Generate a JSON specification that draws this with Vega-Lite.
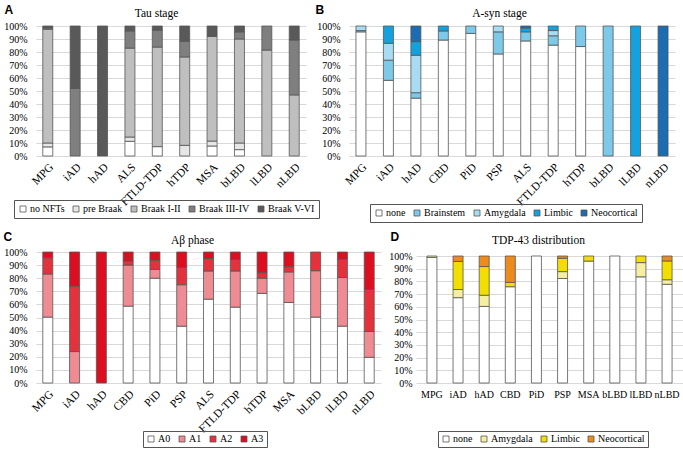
{
  "$schema": "https://vega.github.io/schema/vega-lite/v6.json",
  "background": "white",
  "padding": {"left": 3, "top": 3, "right": 0, "bottom": 0},
  "datasets": {
    "tau": [
      {"g":"MPG","s":"no NFTs","k":0,"v":7},{"g":"MPG","s":"pre Braak","k":1,"v":3},{"g":"MPG","s":"Braak I-II","k":2,"v":87.5},{"g":"MPG","s":"Braak III-IV","k":3,"v":1},{"g":"MPG","s":"Braak V-VI","k":4,"v":1.5},
      {"g":"iAD","s":"Braak III-IV","k":3,"v":52},{"g":"iAD","s":"Braak V-VI","k":4,"v":48},
      {"g":"hAD","s":"Braak V-VI","k":4,"v":100},
      {"g":"ALS","s":"no NFTs","k":0,"v":11.3},{"g":"ALS","s":"pre Braak","k":1,"v":3.3},{"g":"ALS","s":"Braak I-II","k":2,"v":68.4},{"g":"ALS","s":"Braak III-IV","k":3,"v":13.2},{"g":"ALS","s":"Braak V-VI","k":4,"v":3.8},
      {"g":"FTLD-TDP","s":"no NFTs","k":0,"v":7.2},{"g":"FTLD-TDP","s":"Braak I-II","k":2,"v":76.6},{"g":"FTLD-TDP","s":"Braak III-IV","k":3,"v":13},{"g":"FTLD-TDP","s":"Braak V-VI","k":4,"v":3.2},
      {"g":"hTDP","s":"pre Braak","k":1,"v":8.2},{"g":"hTDP","s":"Braak I-II","k":2,"v":68},{"g":"hTDP","s":"Braak III-IV","k":3,"v":12},{"g":"hTDP","s":"Braak V-VI","k":4,"v":11.8},
      {"g":"MSA","s":"no NFTs","k":0,"v":7.7},{"g":"MSA","s":"pre Braak","k":1,"v":3.8},{"g":"MSA","s":"Braak I-II","k":2,"v":80.5},{"g":"MSA","s":"Braak V-VI","k":4,"v":8},
      {"g":"bLBD","s":"no NFTs","k":0,"v":4.9},{"g":"bLBD","s":"pre Braak","k":1,"v":5.1},{"g":"bLBD","s":"Braak I-II","k":2,"v":80},{"g":"bLBD","s":"Braak III-IV","k":3,"v":5.5},{"g":"bLBD","s":"Braak V-VI","k":4,"v":4.5},
      {"g":"lLBD","s":"Braak I-II","k":2,"v":81.5},{"g":"lLBD","s":"Braak III-IV","k":3,"v":18.5},
      {"g":"nLBD","s":"Braak I-II","k":2,"v":47},{"g":"nLBD","s":"Braak III-IV","k":3,"v":42.2},{"g":"nLBD","s":"Braak V-VI","k":4,"v":10.8}
    ],
    "syn": [
      {"g":"MPG","s":"none","k":0,"v":95.5},{"g":"MPG","s":"Brainstem","k":1,"v":1},{"g":"MPG","s":"Amygdala","k":2,"v":3.5},
      {"g":"iAD","s":"none","k":0,"v":58.2},{"g":"iAD","s":"Brainstem","k":1,"v":15.5},{"g":"iAD","s":"Amygdala","k":2,"v":13},{"g":"iAD","s":"Limbic","k":3,"v":13.3},
      {"g":"hAD","s":"none","k":0,"v":44.5},{"g":"hAD","s":"Brainstem","k":1,"v":4.2},{"g":"hAD","s":"Amygdala","k":2,"v":28.8},{"g":"hAD","s":"Limbic","k":3,"v":10.5},{"g":"hAD","s":"Neocortical","k":4,"v":12},
      {"g":"CBD","s":"none","k":0,"v":89.2},{"g":"CBD","s":"Brainstem","k":1,"v":7},{"g":"CBD","s":"Limbic","k":3,"v":3.8},
      {"g":"PiD","s":"none","k":0,"v":94.3},{"g":"PiD","s":"Brainstem","k":1,"v":5.7},
      {"g":"PSP","s":"none","k":0,"v":78.5},{"g":"PSP","s":"Brainstem","k":1,"v":17},{"g":"PSP","s":"Amygdala","k":2,"v":4.5},
      {"g":"ALS","s":"none","k":0,"v":88.5},{"g":"ALS","s":"Brainstem","k":1,"v":7},{"g":"ALS","s":"Limbic","k":3,"v":3},{"g":"ALS","s":"Neocortical","k":4,"v":1.5},
      {"g":"FTLD-TDP","s":"none","k":0,"v":85.3},{"g":"FTLD-TDP","s":"Brainstem","k":1,"v":7.2},{"g":"FTLD-TDP","s":"Amygdala","k":2,"v":4},{"g":"FTLD-TDP","s":"Limbic","k":3,"v":3.5},
      {"g":"hTDP","s":"none","k":0,"v":84.2},{"g":"hTDP","s":"Brainstem","k":1,"v":15.8},
      {"g":"bLBD","s":"Brainstem","k":1,"v":100},
      {"g":"lLBD","s":"Limbic","k":3,"v":100},
      {"g":"nLBD","s":"Neocortical","k":4,"v":100}
    ],
    "abeta": [
      {"g":"MPG","s":"A0","k":0,"v":50.3},{"g":"MPG","s":"A1","k":1,"v":32.9},{"g":"MPG","s":"A2","k":2,"v":12.5},{"g":"MPG","s":"A3","k":3,"v":4.3},
      {"g":"iAD","s":"A1","k":1,"v":24},{"g":"iAD","s":"A2","k":2,"v":50},{"g":"iAD","s":"A3","k":3,"v":26},
      {"g":"hAD","s":"A3","k":3,"v":100},
      {"g":"CBD","s":"A0","k":0,"v":58.7},{"g":"CBD","s":"A1","k":1,"v":31.3},{"g":"CBD","s":"A2","k":2,"v":3},{"g":"CBD","s":"A3","k":3,"v":7},
      {"g":"PiD","s":"A0","k":0,"v":80},{"g":"PiD","s":"A1","k":1,"v":6.7},{"g":"PiD","s":"A2","k":2,"v":7.1},{"g":"PiD","s":"A3","k":3,"v":6.2},
      {"g":"PSP","s":"A0","k":0,"v":43.4},{"g":"PSP","s":"A1","k":1,"v":31.6},{"g":"PSP","s":"A2","k":2,"v":13.2},{"g":"PSP","s":"A3","k":3,"v":11.8},
      {"g":"ALS","s":"A0","k":0,"v":64},{"g":"ALS","s":"A1","k":1,"v":21.5},{"g":"ALS","s":"A2","k":2,"v":9.5},{"g":"ALS","s":"A3","k":3,"v":5},
      {"g":"FTLD-TDP","s":"A0","k":0,"v":57.9},{"g":"FTLD-TDP","s":"A1","k":1,"v":27.6},{"g":"FTLD-TDP","s":"A2","k":2,"v":8.8},{"g":"FTLD-TDP","s":"A3","k":3,"v":5.7},
      {"g":"hTDP","s":"A0","k":0,"v":68.4},{"g":"hTDP","s":"A1","k":1,"v":11.6},{"g":"hTDP","s":"A2","k":2,"v":4.2},{"g":"hTDP","s":"A3","k":3,"v":15.8},
      {"g":"MSA","s":"A0","k":0,"v":61.5},{"g":"MSA","s":"A1","k":1,"v":23.3},{"g":"MSA","s":"A2","k":2,"v":3.9},{"g":"MSA","s":"A3","k":3,"v":11.3},
      {"g":"bLBD","s":"A0","k":0,"v":50.3},{"g":"bLBD","s":"A1","k":1,"v":35.4},{"g":"bLBD","s":"A2","k":2,"v":14.3},
      {"g":"lLBD","s":"A0","k":0,"v":43.4},{"g":"lLBD","s":"A1","k":1,"v":37.1},{"g":"lLBD","s":"A2","k":2,"v":14},{"g":"lLBD","s":"A3","k":3,"v":5.5},
      {"g":"nLBD","s":"A0","k":0,"v":19.6},{"g":"nLBD","s":"A1","k":1,"v":19.7},{"g":"nLBD","s":"A2","k":2,"v":32.1},{"g":"nLBD","s":"A3","k":3,"v":28.6}
    ],
    "tdp": [
      {"g":"MPG","s":"none","k":0,"v":98.9},{"g":"MPG","s":"Amygdala","k":1,"v":1.1},
      {"g":"iAD","s":"none","k":0,"v":67.2},{"g":"iAD","s":"Amygdala","k":1,"v":6.4},{"g":"iAD","s":"Limbic","k":2,"v":22.1},{"g":"iAD","s":"Neocortical","k":3,"v":4.3},
      {"g":"hAD","s":"none","k":0,"v":60.3},{"g":"hAD","s":"Amygdala","k":1,"v":8.8},{"g":"hAD","s":"Limbic","k":2,"v":22.6},{"g":"hAD","s":"Neocortical","k":3,"v":8.3},
      {"g":"CBD","s":"none","k":0,"v":75.8},{"g":"CBD","s":"Limbic","k":2,"v":3.4},{"g":"CBD","s":"Neocortical","k":3,"v":20.8},
      {"g":"PiD","s":"none","k":0,"v":100},
      {"g":"PSP","s":"none","k":0,"v":82.3},{"g":"PSP","s":"Amygdala","k":1,"v":5.4},{"g":"PSP","s":"Limbic","k":2,"v":10.5},{"g":"PSP","s":"Neocortical","k":3,"v":1.8},
      {"g":"MSA","s":"none","k":0,"v":96},{"g":"MSA","s":"Limbic","k":2,"v":4},
      {"g":"bLBD","s":"none","k":0,"v":100},
      {"g":"lLBD","s":"none","k":0,"v":83.6},{"g":"lLBD","s":"Amygdala","k":1,"v":11.2},{"g":"lLBD","s":"Limbic","k":2,"v":5.2},
      {"g":"nLBD","s":"none","k":0,"v":77.7},{"g":"nLBD","s":"Amygdala","k":1,"v":3.6},{"g":"nLBD","s":"Limbic","k":2,"v":14.8},{"g":"nLBD","s":"Neocortical","k":3,"v":3.9}
    ]
  },
  "vconcat": [
    {
      "hconcat": [
        {
          "data": {"name": "tau"},
          "width": 270, "height": 130,
          "mark": {"type": "bar", "width": 10, "stroke": "#555", "strokeWidth": 0.8},
          "encoding": {
            "x": {"field": "g", "type": "nominal", "sort": ["MPG","iAD","hAD","ALS","FTLD-TDP","hTDP","MSA","bLBD","lLBD","nLBD"], "scale": {"paddingInner": 0.5, "paddingOuter": 0.18}, "axis": {"title": "Tau stage", "titleX": 120, "titleY": -140, "labelAngle": -45, "labelDx": 9, "labelDy": 11}},
            "y": {"field": "v", "type": "quantitative", "stack": "normalize", "axis": {"title": "A", "titleX": -32, "titleY": -13, "values": [0,0.1,0.2,0.3,0.4,0.5,0.6,0.7,0.8,0.9,1], "format": ".0%"}},
            "color": {"field": "s", "type": "nominal", "title": null, "scale": {"domain": ["no NFTs","pre Braak","Braak I-II","Braak III-IV","Braak V-VI"], "range": ["#ffffff","#e6e6e6","#bfbfbf","#7f7f7f","#595959"]}, "legend": {"legendX": -22, "legendY": 174, "columns": 5}},
            "order": {"field": "k", "type": "quantitative"}
          }
        },
        {
          "data": {"name": "syn"},
          "width": 326, "height": 130,
          "mark": {"type": "bar", "width": 10, "stroke": "#555", "strokeWidth": 0.8},
          "encoding": {
            "x": {"field": "g", "type": "nominal", "sort": ["MPG","iAD","hAD","CBD","PiD","PSP","ALS","FTLD-TDP","hTDP","bLBD","lLBD","nLBD"], "scale": {"paddingInner": 0.5, "paddingOuter": 0.185}, "axis": {"title": "A-syn  stage", "titleX": 150, "titleY": -140, "labelAngle": -45, "labelDx": 9, "labelDy": 11}},
            "y": {"field": "v", "type": "quantitative", "stack": "normalize", "axis": {"title": "B", "titleX": -34, "titleY": -13, "values": [0,0.1,0.2,0.3,0.4,0.5,0.6,0.7,0.8,0.9,1], "format": ".0%"}},
            "color": {"field": "s", "type": "nominal", "title": null, "scale": {"domain": ["none","Brainstem","Amygdala","Limbic","Neocortical"], "range": ["#ffffff","#7cc9ea","#a8dcf2","#15a1de","#1b6cb0"]}, "legend": {"legendX": 21, "legendY": 178, "columns": 5}},
            "order": {"field": "k", "type": "quantitative"}
          }
        }
      ],
      "spacing": -5,
      "resolve": {"scale": {"x": "independent", "y": "independent", "color": "independent"}, "legend": {"color": "independent"}}
    },
    {
      "hconcat": [
        {
          "data": {"name": "abeta"},
          "width": 345, "height": 131,
          "mark": {"type": "bar", "width": 10, "stroke": "#555", "strokeWidth": 0.8},
          "encoding": {
            "x": {"field": "g", "type": "nominal", "sort": ["MPG","iAD","hAD","CBD","PiD","PSP","ALS","FTLD-TDP","hTDP","MSA","bLBD","lLBD","nLBD"], "scale": {"paddingInner": 0.5, "paddingOuter": 0.19}, "axis": {"title": "Aβ phase", "titleX": 156, "titleY": -140, "labelAngle": -45, "labelDx": 9, "labelDy": 11}},
            "y": {"field": "v", "type": "quantitative", "stack": "normalize", "axis": {"title": "C", "titleX": -33, "titleY": -11.5, "values": [0,0.1,0.2,0.3,0.4,0.5,0.6,0.7,0.8,0.9,1], "format": ".0%"}},
            "color": {"field": "s", "type": "nominal", "title": null, "scale": {"domain": ["A0","A1","A2","A3"], "range": ["#ffffff","#ef8b93","#e4323c","#dc0e1f"]}, "legend": {"legendX": 107, "legendY": 179, "columns": 4, "padding": 3}},
            "order": {"field": "k", "type": "quantitative"}
          }
        },
        {
          "data": {"name": "tdp"},
          "width": 267, "height": 131,
          "mark": {"type": "bar", "width": 10, "stroke": "#555", "strokeWidth": 0.8},
          "encoding": {
            "x": {"field": "g", "type": "nominal", "sort": ["MPG","iAD","hAD","CBD","PiD","PSP","MSA","bLBD","lLBD","nLBD"], "scale": {"paddingInner": 0.5, "paddingOuter": 0.36}, "axis": {"title": "TDP-43  distribution", "titleX": 122, "titleY": -140, "labelAngle": 0, "labelFontSize": 10, "labelPadding": 6}},
            "y": {"field": "v", "type": "quantitative", "stack": "normalize", "scale": {"domain": [0, 1.0315], "nice": false}, "axis": {"title": "D", "titleX": -26, "titleY": -12, "labelPadding": 4, "values": [0,0.1,0.2,0.3,0.4,0.5,0.6,0.7,0.8,0.9,1], "format": ".0%"}},
            "color": {"field": "s", "type": "nominal", "title": null, "scale": {"domain": ["none","Amygdala","Limbic","Neocortical"], "range": ["#ffffff","#f6eea0","#f2df00","#ee8b1d"]}, "legend": {"legendX": 22, "legendY": 179, "columns": 4, "padding": 3}},
            "order": {"field": "k", "type": "quantitative"}
          }
        }
      ],
      "spacing": 7,
      "resolve": {"scale": {"x": "independent", "y": "independent", "color": "independent"}, "legend": {"color": "independent"}}
    }
  ],
  "spacing": 7,
  "resolve": {"scale": {"x": "independent", "y": "independent", "color": "independent"}, "legend": {"color": "independent"}},
  "config": {
    "font": "Liberation Serif",
    "view": {"stroke": null},
    "axis": {"labelFont": "Liberation Serif", "labelColor": "#000", "domain": false, "ticks": false},
    "axisX": {"grid": false, "labelFontSize": 11.5, "labelPadding": 5, "titleFont": "Liberation Serif", "titleFontSize": 11.5, "titleFontWeight": "normal", "titleColor": "#000", "titleAlign": "center", "titleBaseline": "alphabetic", "titleAngle": 0},
    "axisY": {"grid": true, "gridColor": "#d9d9d9", "gridWidth": 1, "labelFontSize": 10, "labelPadding": 9, "titleAngle": 0, "titleAlign": "left", "titleBaseline": "alphabetic", "titleFont": "Liberation Sans", "titleFontSize": 12, "titleFontWeight": "bold", "titleColor": "#000"},
    "legend": {"orient": "none", "direction": "horizontal", "strokeColor": "#555", "padding": 4, "symbolType": "square", "symbolSize": 36, "symbolStrokeColor": "#555", "symbolStrokeWidth": 0.8, "labelFont": "Liberation Serif", "labelFontSize": 10, "labelColor": "#000", "columnPadding": 6, "labelOffset": 2}
  }
}
